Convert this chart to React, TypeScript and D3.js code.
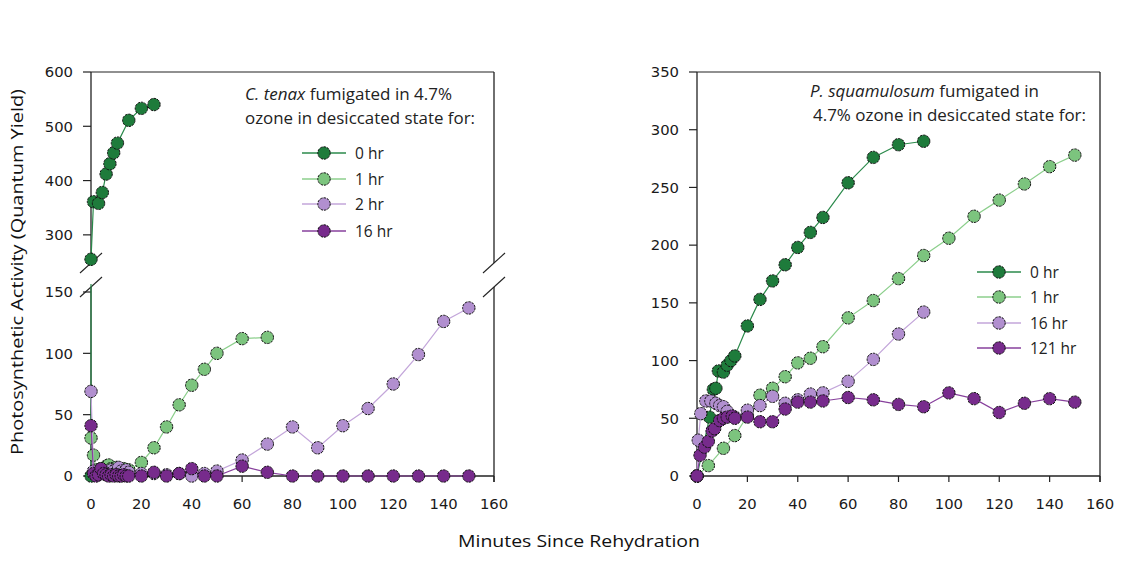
import React from 'react';
import * as d3 from 'd3';

type Pt = [number, number];

// ---------- data ----------
const xTicks = [0, 20, 40, 60, 80, 100, 120, 140, 160];
const leftLowTicks = [0, 50, 100, 150];
const leftHighTicks = [300, 400, 500, 600];
const rightTicks = [0, 50, 100, 150, 200, 250, 300, 350];

const leftNames = ['0 hr', '1 hr', '2 hr', '16 hr'];
const rightNames = ['0 hr', '1 hr', '16 hr', '121 hr'];

// C. tenax
const tenax0: Pt[] = [[0, 0], [0, 255], [1, 361], [3, 358], [4.5, 378], [6, 412], [7.5, 431], [9, 451], [10.5, 469], [15, 511], [20, 533], [25, 540]];
const tenax1: Pt[] = [[0, 31], [1, 17], [2, 5], [3, 3], [4, 6], [5, 4], [6, 8], [7, 9], [8, 6], [9, 5], [10, 7], [11, 4], [12, 5], [13, 6], [14, 4], [15, 5], [20, 11], [25, 23], [30, 40], [35, 58], [40, 74], [45, 87], [50, 100], [60, 112], [70, 113]];
const tenax2: Pt[] = [[0, 69], [1, 4], [2, 2], [3, 3], [4, 2], [5, 4], [6, 3], [7, 2], [8, 5], [9, 4], [10, 3], [11, 7], [12, 4], [13, 3], [14, 5], [15, 3], [20, 2], [25, 2], [30, 1], [35, 2], [40, 0], [45, 2], [50, 4], [60, 13], [70, 26], [80, 40], [90, 23], [100, 41], [110, 55], [120, 75], [130, 99], [140, 126], [150, 137]];
const tenax16: Pt[] = [[0, 41], [1, 2], [2, 0], [3, 1], [4, 6], [5, 2], [6, 1], [7, 0], [8, 1], [9, 0], [10, 1], [11, 0], [12, 0], [13, 1], [14, 0], [15, 0], [20, 0], [25, 3], [30, 0], [35, 2], [40, 6], [45, 0], [50, 0], [60, 8], [70, 3], [80, 0], [90, 0], [100, 0], [110, 0], [120, 0], [130, 0], [140, 0], [150, 0]];

// P. squamulosum
const squam0: Pt[] = [[0, 0], [5, 51], [6.5, 75], [7.5, 76], [8.5, 91], [10.5, 90], [12, 96], [13.5, 100], [15, 104], [20, 130], [25, 153], [30, 169], [35, 183], [40, 198], [45, 211], [50, 224], [60, 254], [70, 276], [80, 287], [90, 290]];
const squam1: Pt[] = [[0, 0], [4.5, 9], [10.5, 24], [15, 35], [20, 52], [25, 70], [30, 76], [35, 86], [40, 98], [45, 102], [50, 112], [60, 137], [70, 152], [80, 171], [90, 191], [100, 206], [110, 225], [120, 239], [130, 253], [140, 268], [150, 278]];
const squam16: Pt[] = [[0, 0], [0.5, 31], [1.5, 54], [3.5, 65], [5.5, 65], [7.5, 63], [9, 61], [10.5, 60], [12, 56], [15, 51], [20, 57], [25, 61], [30, 69], [35, 63], [40, 66], [45, 71], [50, 72], [60, 82], [70, 101], [80, 123], [90, 142]];
const squam121: Pt[] = [[0, 0], [1.2, 18], [3, 25], [4.5, 30], [6, 39], [7, 41], [9, 48], [10.5, 50], [12, 51], [14, 52], [15, 50], [20, 51], [25, 47], [30, 47], [35, 58], [40, 64], [45, 64], [50, 65], [60, 68], [70, 66], [80, 62], [90, 60], [100, 72], [110, 67], [120, 55], [130, 63], [140, 67], [150, 64]];

const leftSeries = [tenax0, tenax1, tenax2, tenax16];
const rightSeries = [squam0, squam1, squam16, squam121];

// ---------- styles ----------
const fills = ['#1e7b3b', '#7cc47e', '#b18fcf', '#772b8c'];
const lineCols = ['#2b8a4b', '#8ccf8c', '#c3a6da', '#87409c'];
const AXIS = '#222';
const TICKFONT = 'DejaVu Sans, Verdana, sans-serif';
const TEXTFONT = 'Open Sans, Noto Sans, sans-serif';
const TICKSIZE = 14.8;
const R = 6.2;

const Marker = ({ x, y, fill }: { x: number; y: number; fill: string }) => (
  <circle cx={x} cy={y} r={R} fill={fill} stroke="#111" strokeWidth={1} strokeDasharray="2.5 1" />
);

export default function App() {
  // left panel scales
  const xL = d3.scaleLinear().domain([0, 160]).range([91, 494]);
  const yLo = d3.scaleLinear().domain([0, 150]).range([476, 292]);
  const yHi = d3.scaleLinear().domain([250, 600]).range([262, 72]);
  // right panel scales
  const xR = d3.scaleLinear().domain([0, 160]).range([697, 1100]);
  const yR = d3.scaleLinear().domain([0, 350]).range([476, 72]);

  const lineFor = (xs: d3.ScaleLinear<number, number>, ys: d3.ScaleLinear<number, number>) =>
    d3.line<Pt>().x(d => xs(d[0])).y(d => ys(d[1]));

  const brk = (cx: number, cy: number, key: string) => (
    <line key={key} x1={cx - 11} y1={cy + 10} x2={cx + 11} y2={cy - 10} stroke={AXIS} strokeWidth={1.1} />
  );

  const legend = (names: string[], x0: number, ys: number[]) =>
    names.map((n, i) => (
      <g key={n + i}>
        <line x1={x0} x2={x0 + 44} y1={ys[i]} y2={ys[i]} stroke={lineCols[i]} strokeWidth={1.6} />
        <Marker x={x0 + 22} y={ys[i]} fill={fills[i]} />
        <text x={x0 + 53} y={ys[i] + 5.5} fontFamily={TEXTFONT} fontSize={15.5} fill="#222">{n}</text>
      </g>
    ));

  const lineLo = lineFor(xL, yLo);
  const lineHi = lineFor(xL, yHi);
  const lineR = lineFor(xR, yR);

  return (
    <svg width={1135} height={568} style={{ position: 'absolute', left: 0, top: 0, background: '#fff' }}>
      <defs>
        <clipPath id="clipHi"><rect x={85} y={60} width={420} height={206} /></clipPath>
        <clipPath id="clipLo"><rect x={85} y={284} width={420} height={200} /></clipPath>
      </defs>

      {/* ---------- LEFT PANEL ---------- */}
      <line x1={91} x2={494} y1={72} y2={72} stroke={AXIS} strokeWidth={1.2} />
      <line x1={91} x2={91} y1={72} y2={263} stroke={AXIS} strokeWidth={1.3} />
      <line x1={91} x2={91} y1={287} y2={476} stroke={AXIS} strokeWidth={1.3} />
      <line x1={494} x2={494} y1={72} y2={263} stroke={AXIS} strokeWidth={1.3} />
      <line x1={494} x2={494} y1={287} y2={482} stroke={AXIS} strokeWidth={1.3} />
      <line x1={91} x2={494} y1={476} y2={476} stroke={AXIS} strokeWidth={1.3} />
      {brk(91, 263, 'b1')}{brk(91, 287, 'b2')}{brk(494, 263, 'b3')}{brk(494, 287, 'b4')}
      {leftHighTicks.map(t => (
        <g key={'lh' + t}>
          <line x1={83} x2={91} y1={yHi(t)} y2={yHi(t)} stroke={AXIS} strokeWidth={1.2} />
          <text x={73} y={yHi(t)} dy="0.36em" textAnchor="end" fontFamily={TICKFONT} fontSize={TICKSIZE} fill="#1a1a1a">{t}</text>
        </g>
      ))}
      {leftLowTicks.map(t => (
        <g key={'ll' + t}>
          <line x1={83} x2={91} y1={yLo(t)} y2={yLo(t)} stroke={AXIS} strokeWidth={1.2} />
          <text x={73} y={yLo(t)} dy="0.36em" textAnchor="end" fontFamily={TICKFONT} fontSize={TICKSIZE} fill="#1a1a1a">{t}</text>
        </g>
      ))}
      {xTicks.map(t => (
        <g key={'lx' + t}>
          <line x1={xL(t)} x2={xL(t)} y1={476} y2={482} stroke={AXIS} strokeWidth={1.2} />
          <text x={xL(t)} y={509} textAnchor="middle" fontFamily={TICKFONT} fontSize={TICKSIZE} fill="#1a1a1a">{t}</text>
        </g>
      ))}
      {leftSeries.map((s, i) => (
        <g key={'ls' + i}>
          <path d={lineHi(s) || ''} fill="none" stroke={lineCols[i]} strokeWidth={1.2} clipPath="url(#clipHi)" />
          <path d={lineLo(s) || ''} fill="none" stroke={lineCols[i]} strokeWidth={1.2} clipPath="url(#clipLo)" />
          {s.map((d, j) =>
            d[1] >= 250 ? <Marker key={j} x={xL(d[0])} y={yHi(d[1])} fill={fills[i]} />
              : d[1] <= 150 ? <Marker key={j} x={xL(d[0])} y={yLo(d[1])} fill={fills[i]} /> : null
          )}
        </g>
      ))}
      <text x={245} y={100} fontFamily={TEXTFONT} fontSize={15.5} fill="#222" textLength={207} lengthAdjust="spacingAndGlyphs">
        <tspan fontStyle="italic">C. tenax</tspan> fumigated in 4.7%
      </text>
      <text x={245} y={124} fontFamily={TEXTFONT} fontSize={15.5} fill="#222" textLength={230} lengthAdjust="spacingAndGlyphs">
        ozone in desiccated state for:
      </text>
      {legend(leftNames, 302, [153, 179, 204, 231])}

      {/* ---------- RIGHT PANEL ---------- */}
      <line x1={697} x2={1100} y1={72} y2={72} stroke={AXIS} strokeWidth={1.2} />
      <line x1={697} x2={697} y1={72} y2={476} stroke={AXIS} strokeWidth={1.3} />
      <line x1={1100} x2={1100} y1={72} y2={482} stroke={AXIS} strokeWidth={1.3} />
      <line x1={697} x2={1100} y1={476} y2={476} stroke={AXIS} strokeWidth={1.3} />
      {rightTicks.map(t => (
        <g key={'ry' + t}>
          <line x1={689} x2={697} y1={yR(t)} y2={yR(t)} stroke={AXIS} strokeWidth={1.2} />
          <text x={679} y={yR(t)} dy="0.36em" textAnchor="end" fontFamily={TICKFONT} fontSize={TICKSIZE} fill="#1a1a1a">{t}</text>
        </g>
      ))}
      {xTicks.map(t => (
        <g key={'rx' + t}>
          <line x1={xR(t)} x2={xR(t)} y1={476} y2={482} stroke={AXIS} strokeWidth={1.2} />
          <text x={xR(t)} y={509} textAnchor="middle" fontFamily={TICKFONT} fontSize={TICKSIZE} fill="#1a1a1a">{t}</text>
        </g>
      ))}
      {rightSeries.map((s, i) => (
        <g key={'rs' + i}>
          <path d={lineR(s) || ''} fill="none" stroke={lineCols[i]} strokeWidth={1.2} />
          {s.map((d, j) => <Marker key={j} x={xR(d[0])} y={yR(d[1])} fill={fills[i]} />)}
        </g>
      ))}
      <text x={810} y={97} fontFamily={TEXTFONT} fontSize={15.5} fill="#222" textLength={229} lengthAdjust="spacingAndGlyphs">
        <tspan fontStyle="italic">P. squamulosum</tspan> fumigated in
      </text>
      <text x={813} y={121} fontFamily={TEXTFONT} fontSize={15.5} fill="#222" textLength={273} lengthAdjust="spacingAndGlyphs">
        4.7% ozone in desiccated state for:
      </text>
      {legend(rightNames, 977, [272, 297, 323, 348])}

      {/* ---------- AXIS TITLES ---------- */}
      <text transform="translate(23,272) rotate(-90)" textAnchor="middle" fontFamily={TEXTFONT} fontSize={17} fill="#111" textLength={366} lengthAdjust="spacingAndGlyphs">
        Photosynthetic Activity (Quantum Yield)
      </text>
      <text x={579} y={547} textAnchor="middle" fontFamily={TEXTFONT} fontSize={17} fill="#111" textLength={242} lengthAdjust="spacingAndGlyphs">
        Minutes Since Rehydration
      </text>
    </svg>
  );
}
